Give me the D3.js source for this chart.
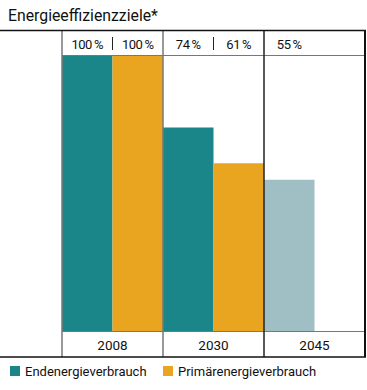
<!DOCTYPE html>
<html>
<head>
<meta charset="utf-8">
<script src="https://cdn.jsdelivr.net/npm/d3@7"></script>
<style>
  body { margin: 0; background: #fff; }
  text { font-family: Roboto, "Liberation Sans", sans-serif; fill: #111; }
</style>
</head>
<body>
<div id="chart"></div>
<script>
// Data
const years = ['2008', '2030', '2045']
const finalEnergy = [100, 74, 55] // Endenergieverbrauch
const primaryEnergy = [100, 61, null] // Primärenergieverbrauch
const seriesNames = ['Endenergieverbrauch', 'Primärenergieverbrauch']
const barColors = ['#1a868a', '#e9a520']
const targetColor = '#9fbfc4' // 2045 bar is drawn lighter

const width = 367, height = 390
const tableTop = 30, headBottom = 56, plotBottom = 331, tableBottom = 357
const tableLeft = 62, tableRight = 365

const svg = d3.select('#chart').append('svg')
  .attr('width', width).attr('height', height)

svg.append('text')
  .attr('x', 8).attr('y', 21)
  .attr('font-size', 15.8)
  .text('Energieeffizienzziele*')

const x = d3.scaleBand().domain(years).range([tableLeft, tableRight])
const xs = d3.scaleBand().domain(seriesNames).range([0, x.bandwidth()])
const y = d3.scaleLinear().domain([0, 100]).range([plotBottom, headBottom])

// build flat list of bars
const bars = []
years.forEach((yr, i) => {
  if (finalEnergy[i] != null) bars.push({ year: yr, s: 0, v: finalEnergy[i], c: yr === '2045' ? targetColor : barColors[0] })
  if (primaryEnergy[i] != null) bars.push({ year: yr, s: 1, v: primaryEnergy[i], c: barColors[1] })
})

svg.selectAll('rect.bar')
  .data(bars)
  .enter()
  .append('rect')
  .attr('class', 'bar')
  .attr('x', (d) => x(d.year) + xs(seriesNames[d.s]))
  .attr('y', (d) => y(d.v))
  .attr('width', xs.bandwidth())
  .attr('height', (d) => y(0) - y(d.v))
  .attr('fill', (d) => d.c)

// percentage labels in header row
svg.selectAll('text.pct')
  .data(bars)
  .enter()
  .append('text')
  .attr('class', 'pct')
  .attr('x', (d) => x(d.year) + xs(seriesNames[d.s]) + xs.bandwidth() / 2)
  .attr('y', 49)
  .attr('text-anchor', 'middle')
  .attr('font-size', 13)
  .attr('letter-spacing', -0.5)
  .text((d) => d.v + '\u2009%')

// short separators between the two values in a group
svg.selectAll('line.sep')
  .data(years.filter((yr, i) => primaryEnergy[i] != null))
  .enter()
  .append('line')
  .attr('x1', (d) => x(d) + xs(seriesNames[1]))
  .attr('x2', (d) => x(d) + xs(seriesNames[1]))
  .attr('y1', 37).attr('y2', 50)
  .attr('stroke', '#222')

// grid lines of the table
const grey = '#777'
svg.append('line').attr('x1', tableLeft).attr('x2', tableRight).attr('y1', headBottom - 0.5).attr('y2', headBottom - 0.5).attr('stroke', grey)
svg.append('line').attr('x1', tableLeft).attr('x2', tableRight).attr('y1', plotBottom + 0.5).attr('y2', plotBottom + 0.5).attr('stroke', grey)
svg.append('line').attr('x1', tableLeft).attr('x2', tableLeft).attr('y1', tableTop).attr('y2', tableBottom).attr('stroke', grey).attr('stroke-width', 1.5)

svg.selectAll('line.div')
  .data(years.slice(1))
  .enter()
  .append('line')
  .attr('x1', (d) => x(d)).attr('x2', (d) => x(d))
  .attr('y1', tableTop).attr('y2', tableBottom)
  .attr('stroke', (d) => d === '2045' ? '#222' : grey)
  .attr('stroke-width', 1.5)

svg.append('line').attr('x1', tableRight).attr('x2', tableRight).attr('y1', tableTop).attr('y2', tableBottom).attr('stroke', '#111').attr('stroke-width', 2)
svg.append('line').attr('x1', 0).attr('x2', tableRight + 1).attr('y1', tableTop + 0.5).attr('y2', tableTop + 0.5).attr('stroke', '#111').attr('stroke-width', 1.5)
svg.append('line').attr('x1', 0).attr('x2', tableRight + 1).attr('y1', tableBottom).attr('y2', tableBottom).attr('stroke', '#111').attr('stroke-width', 1.5)

// year labels
svg.selectAll('text.year')
  .data(years)
  .enter()
  .append('text')
  .attr('class', 'year')
  .attr('x', (d) => x(d) + x.bandwidth() / 2)
  .attr('y', 350)
  .attr('text-anchor', 'middle')
  .attr('font-size', 13.5)
  .text((d) => d)

// legend
const legendX = [10, 163]
seriesNames.forEach((name, i) => {
  svg.append('rect').attr('x', legendX[i]).attr('y', 366).attr('width', 10).attr('height', 10).attr('fill', barColors[i])
  svg.append('text').attr('x', legendX[i] + 15).attr('y', 376).attr('font-size', 13).text(name)
})
</script>
</body>
</html>
